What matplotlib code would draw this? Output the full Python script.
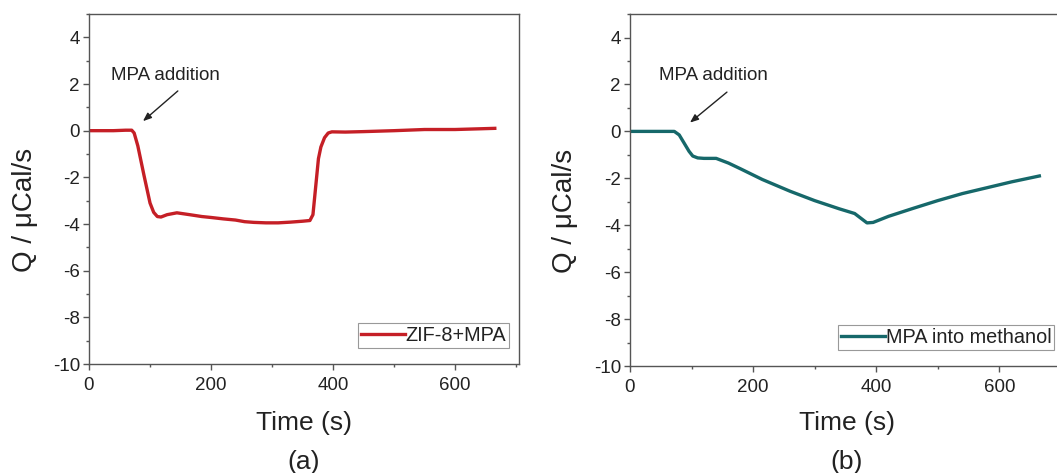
import matplotlib.pyplot as plt
from matplotlib.ticker import MultipleLocator

plt.rcParams['font.family'] = ['Liberation Sans', 'DejaVu Sans']
plt.rcParams['axes.unicode_minus'] = False

# panel (a): ZIF-8 + MPA
t_a = [0, 20, 40, 60, 70, 74, 80, 90, 100, 106, 112, 118, 128, 144, 165, 185, 200, 220, 240,
       255, 270, 290, 310, 330, 350, 362, 367, 370, 373, 376, 380, 386, 392, 398,
       420, 450, 500, 550, 600, 640, 665]
q_a = [0, 0, 0, 0.02, 0.02, -0.1, -0.65, -1.9, -3.1, -3.5, -3.68, -3.7, -3.6, -3.52,
       -3.6, -3.68, -3.72, -3.78, -3.83, -3.9, -3.93, -3.95, -3.95, -3.92, -3.88, -3.85,
       -3.6, -2.8, -2.0, -1.2, -0.7, -0.3, -0.1, -0.05, -0.06, -0.04, 0.0, 0.05,
       0.05, 0.08, 0.1]

# panel (b): MPA into methanol
t_b = [0, 20, 40, 60, 72, 80, 88, 96, 102, 110, 120, 140, 160, 180, 215, 260, 300, 340,
       365, 375, 385, 395, 420, 460, 500, 540, 580, 620, 665]
q_b = [0, 0, 0, 0, 0, -0.15, -0.5, -0.85, -1.05, -1.13, -1.15, -1.15, -1.35, -1.6, -2.05,
       -2.55, -2.95, -3.3, -3.5, -3.7, -3.9, -3.88, -3.62, -3.28, -2.95, -2.65,
       -2.4, -2.15, -1.9]

fig = plt.figure(figsize=(10.57, 4.73), dpi=100)
ax1 = fig.add_axes([0.0842, 0.2304, 0.407, 0.74])
ax2 = fig.add_axes([0.596, 0.2262, 0.4106, 0.744])

# (axis, x, y, colour, legend label, tag, text pos, arrow from, arrow to, legend loc, legend anchor, xlabel y)
panels = [
    (ax1, t_a, q_a, '#c51f26', 'ZIF-8+MPA', '(a)', (126, 2.38), (149, 1.78), (85, 0.33),
     'lower right', (0.977, 0.046), -0.169),
    (ax2, t_b, q_b, '#16686a', 'MPA into methanol', '(b)', (135, 2.4), (161, 1.75), (94, 0.3),
     'lower left', (0.479, 0.045), -0.162),
]

txt_col = '#222222'
for ax, t, q, color, label, tag, txt, a_from, a_to, loc, leg_pos, xl_y in panels:
    ax.plot(t, q, color=color, lw=2.4, label=label)
    ax.set_xlim(0, 705)
    ax.set_ylim(-10, 5)
    ax.xaxis.set_major_locator(MultipleLocator(200))
    ax.xaxis.set_minor_locator(MultipleLocator(100))
    ax.yaxis.set_minor_locator(MultipleLocator(1))
    ax.set_yticks([4, 2, 0, -2, -4, -6, -8, -10])
    ax.tick_params(which='major', length=4.5, width=1, labelsize=13.5,
                   colors='#555555', labelcolor=txt_col)
    ax.tick_params(axis='x', which='major', pad=4.5)
    ax.tick_params(axis='y', which='major', pad=2)
    ax.tick_params(which='minor', length=2.5, width=1, colors='#555555')
    for s in ax.spines.values():
        s.set_color('#555555')
        s.set_linewidth(1)
    ax.set_ylabel('Q / \u03bcCal/s', fontsize=20, color=txt_col)
    ax.yaxis.set_label_coords(-0.149, 0.44)
    ax.yaxis.label.set_va('center')
    ax.set_xlabel('Time (s)', fontsize=19, color=txt_col)
    ax.xaxis.set_label_coords(0.5, xl_y)
    ax.xaxis.label.set_va('center')
    ax.text(0.5, xl_y - 0.11, tag, transform=ax.transAxes, fontsize=19,
            ha='center', va='center', color=txt_col)
    ax.text(txt[0], txt[1], 'MPA addition', fontsize=13.5, ha='center', va='center',
            color=txt_col)
    ax.annotate('', xy=a_to, xytext=a_from,
                arrowprops=dict(arrowstyle='-|>,head_length=0.5,head_width=0.2',
                                color=txt_col, lw=1))
    leg = ax.legend(loc=loc, bbox_to_anchor=leg_pos, fontsize=14.3,
                    handlelength=2.2, handletextpad=0.05, borderpad=0.15,
                    fancybox=False, framealpha=1, borderaxespad=0)
    leg.get_frame().set_edgecolor('#999999')
    leg.get_frame().set_linewidth(0.8)
    for tx in leg.get_texts():
        tx.set_color(txt_col)

fig.savefig('out.png', dpi=100)
